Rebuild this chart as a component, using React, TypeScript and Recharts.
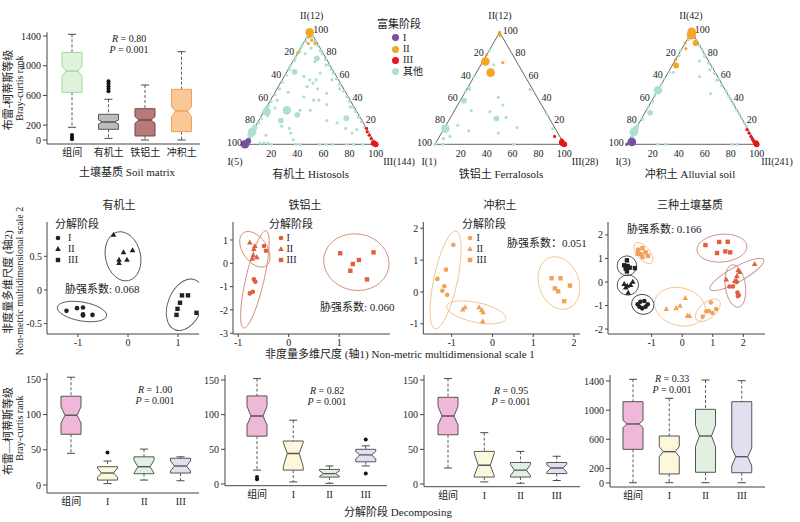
import React from 'react';
import {
    BarChart,
    Bar,
    XAxis,
    YAxis,
    ScatterChart,
    Scatter,
    ReferenceLine,
    ReferenceArea,
} from 'recharts';

const FONT = '"Liberation Serif", "Times New Roman", "Noto Sans CJK SC", serif';
const AXIS = '#444';
const TICK = { fontSize: 10, fill: '#222' };

// ---------- row 1: Bray-Curtis rank by soil matrix ----------
const soilCats = ['组间', '有机土', '铁铝土', '冲积土'];
const soilLow = [171, 22, 0, 0];
const soilQ1 = [642, 144, 54, 112];
const soilMed = [929, 242, 269, 390];
const soilQ3 = [1180, 346, 421, 682];
const soilHigh = [1423, 548, 740, 1189];
const soilNotchLo = [861, 215, 225, 314];
const soilNotchHi = [996, 270, 315, 448];
const soilOutliers = [[67, 36, 9], [655, 690, 725, 760, 790], [], []];
const soilTicks = [0, 200, 600, 1000, 1400];

// ---------- row 3: Bray-Curtis rank by decomposition stage ----------
const stageCats = ['组间', 'I', 'II', 'III'];
const rankTicks = [0, 50, 100, 150];

const histLow = [45, 2, 7, 6];
const histQ1 = [72, 7, 16, 17];
const histMed = [99, 17, 26, 27];
const histQ3 = [126, 26, 40, 38];
const histHigh = [153, 34, 51, 40];
const histNotchLo = [88, 11, 17, 20];
const histNotchHi = [111, 24, 35, 34];
const histOutliers = [[], [46], [], []];

const ferrLow = [20, 3, 1, 26];
const ferrQ1 = [69, 20, 10, 32];
const ferrMed = [98, 44, 15, 42];
const ferrQ3 = [127, 62, 21, 50];
const ferrHigh = [152, 92, 26, 55];
const ferrNotchLo = [85, 25, 11, 36];
const ferrNotchHi = [112, 60, 19, 47];
const ferrOutliers = [[7, 10], [], [], [64, 15]];

const alluvLow = [23, 3, 1, 5];
const alluvQ1 = [71, 10, 10, 15];
const alluvMed = [98, 27, 20, 23];
const alluvQ3 = [125, 47, 31, 31];
const alluvHigh = [152, 74, 47, 40];
const alluvNotchLo = [85, 12, 12, 17];
const alluvNotchHi = [112, 44, 28, 28];
const alluvOutliers = [[], [], [], []];

const allLow = [4, 4, 4, 4];
const allQ1 = [462, 124, 147, 141];
const allMed = [810, 430, 645, 361];
const allQ3 = [1116, 645, 1011, 1116];
const allHigh = [1423, 1162, 1413, 1404];
const allNotchLo = [760, 360, 500, 233];
const allNotchHi = [860, 500, 790, 480];
const allOutliers = [[], [], [], []];

// ---------- row 2: NMDS scores [axis1, axis2] ----------
const histI = [[-1.23, -0.31], [-1.02, -0.27], [-0.9, -0.26], [-0.9, -0.36], [-0.9, -0.38], [-0.71, -0.37]];
const histII = [[-0.29, 0.82], [-0.09, 0.56], [0.09, 0.59], [-0.18, 0.45], [-0.18, 0.4], [-0.02, 0.45]];
const histIII = [[1.08, -0.08], [1.2, -0.08], [1.04, -0.19], [0.99, -0.28], [0.97, -0.37], [1.37, -0.34]];

const ferrI = [[-0.49, 0.74], [-0.45, 0.54], [-0.69, -0.69], [-0.66, -0.79], [-0.77, -1.29], [-0.71, -1.22]];
const ferrII = [[-0.77, 0.89], [-0.67, 0.74], [-0.69, 0.61], [-0.7, 0.34], [-0.72, 0.2], [-0.63, 0.26]];
const ferrIII = [[1.02, 0.43], [1.68, 0.47], [1.27, -0.03], [1.39, 0.14], [1.22, -0.32], [1.55, -0.69]];

const alluvI = [[-0.96, 1.48], [-1.14, 0.7], [-1.35, 0.41], [-1.18, 0.18], [-1.23, 0.04], [-1.11, -0.09]];
const alluvII = [[-0.73, -0.55], [-0.67, -0.48], [-0.33, -0.48], [-0.26, -0.57], [-0.23, -0.64], [-0.24, -0.92]];
const alluvIII = [[1.45, 0.43], [1.67, 0.43], [1.53, 0.11], [1.61, 0.02], [1.9, 0.2], [1.76, -0.29]];

const mixHistI = [[-1.46, -0.95], [-1.37, -0.84], [-1.24, -0.81], [-1.13, -0.95], [-1.31, -1.12], [-1.2, -1.05], [-1.4, -1.05]];
const mixHistII = [[-1.9, -0.08], [-1.8, -0.16], [-1.85, -0.23], [-1.69, -0.13], [-1.62, 0.01], [-1.77, -0.46]];
const mixHistIII = [[-1.81, 0.92], [-1.9, 0.71], [-1.79, 0.68], [-1.85, 0.57], [-1.72, 0.61], [-1.55, 0.59], [-1.81, 0.45]];
const mixAlluvI = [[0.94, -0.87], [0.79, -1.24], [0.87, -1.23], [0.99, -1.32], [1.11, -1.15], [0.67, -1.47]];
const mixAlluvII = [[-0.52, -1.15], [-0.2, -1.12], [-0.07, -1.01], [0.1, -0.68], [0.17, -1.43], [0.24, -1.45]];
const mixAlluvIII = [[-1.44, 1.37], [-1.3, 1.44], [-1.2, 1.26], [-1.36, 1.18], [-1.12, 1.11], [-1.3, 1.06], [-1.46, 1.2]];
const mixFerrI = [[1.55, -0.19], [1.66, -0.19], [1.81, -0.45], [1.85, -0.56], [1.82, -0.6], [1.78, 0.0]];
const mixFerrII = [[2.37, 0.76], [1.44, 0.11], [1.79, 0.25], [1.83, 0.5], [1.88, 0.42], [1.77, 0.07], [1.72, 0.04]];
const mixFerrIII = [[0.76, 1.57], [1.21, 1.7], [1.49, 1.71], [1.14, 1.23], [1.41, 1.3], [1.57, 1.26]];

// ellipses: [centre x, centre y, semi x, semi y, tilt deg]
const histEll = [[-0.92, -0.32, 0.5, 0.14, 10], [-0.1, 0.5, 0.35, 0.37, -13], [1.14, -0.22, 0.34, 0.4, 22]];
const ferrEll = [[-0.67, -0.69, 0.18, 2.14, 13], [-0.67, 0.6, 0.24, 0.86, -35], [1.34, 0.05, 0.65, 1.21, 10]];
const alluvEll = [[-1.15, 0.38, 0.29, 1.57, 12], [-0.4, -0.64, 0.74, 0.31, 12], [1.63, 0.28, 0.49, 0.85, -20]];
const mixHistEll = [[-1.29, -0.95, 0.37, 0.42, 15], [-1.78, -0.13, 0.35, 0.43, 0], [-1.81, 0.69, 0.32, 0.42, 0]];
const mixAlluvEll = [[0.84, -1.2, 0.49, 0.34, -40], [-0.07, -1.05, 0.85, 0.8, 15], [-1.27, 1.23, 0.21, 0.54, -40]];
const mixFerrEll = [[1.74, -0.17, 0.33, 0.91, -8], [1.79, 0.32, 1.0, 0.32, -29], [1.3, 1.44, 0.82, 0.59, -5]];

// ---------- row 1: ternary plots, [II %, III %, size class]; I % = 100 - II - III ----------
const ternTicks = [20, 40, 60, 80, 100];

const histTernOther = [
    [5, 1, 1], [8, 0, 2], [11, 0, 3], [15, 0, 2], [19, 1, 1], [23, 1, 1], [29, 2, 3], [34, 1, 1], [38, 1, 1],
    [44, 1, 1], [49, 2, 1], [55, 1, 1], [61, 1, 1], [66, 1, 1], [69, 0, 1], [74, 1, 1], [77, 0, 1], [82, 1, 1],
    [86, 0, 1], [88, 0, 1], [91, 1, 1], [94, 1, 1],
    [95, 4, 1], [91, 8, 1], [87, 12, 1], [83, 16, 1], [80, 19, 1], [75, 24, 1], [70, 29, 1], [66, 33, 1],
    [63, 36, 1], [58, 41, 1], [53, 46, 1], [47, 52, 1], [42, 57, 1], [38, 61, 1], [33, 66, 1], [29, 70, 1],
    [24, 75, 1], [20, 79, 1], [15, 84, 1], [11, 88, 1],
    [1, 11, 1], [1, 14, 1], [1, 17, 1], [0, 20, 1], [0, 39, 1], [0, 42, 1], [0, 57, 1], [0, 62, 1], [0, 67, 1],
    [0, 78, 1], [0, 83, 1], [0, 90, 1],
    [76, 17, 2], [73, 17, 1], [80, 6, 1], [64, 6, 2], [30, 17, 3], [26, 27, 2], [32, 7, 1], [39, 5, 1], [21, 17, 2],
    [16, 20, 1], [14, 27, 1], [4, 35, 1], [57, 26, 1], [54, 25, 1], [49, 31, 1], [51, 22, 1], [57, 21, 1],
    [63, 26, 1], [39, 33, 1], [39, 37, 1], [42, 24, 1], [30, 27, 1], [30, 35, 1], [21, 52, 1], [19, 61, 1],
    [14, 70, 1], [23, 66, 2], [33, 64, 1], [13, 79, 1], [10, 77, 1], [57, 38, 1], [70, 27, 1], [49, 48, 1],
    [45, 40, 1], [35, 45, 1], [10, 30, 1], [8, 12, 1], [25, 5, 1], [46, 10, 1], [60, 15, 1], [85, 8, 1],
];
const histTernI = [[0, 0, 3], [1.5, 0.5, 2], [3, 1, 2]];
const histTernII = [[99, 0, 3], [95, 2, 1], [92, 5, 1], [89, 4, 1], [89, 9, 1], [81, 0, 1]];
const histTernIII = [[0, 100, 2], [1, 98, 2], [2, 97, 1], [5, 94, 1], [8, 91, 1], [11, 88, 1], [14, 86, 1]];

const ferrTernOther = [
    [14, 1, 3], [39, 3, 2], [23, 36, 2], [29, 28, 1], [24, 43, 1], [42, 28, 1], [30, 13, 1], [47, 0, 1],
    [49, 2, 1], [51, 1, 1], [17, 9, 1], [7, 8, 1], [0, 6, 1], [0, 61, 1], [15, 56, 1], [10, 44, 1], [71, 10, 1],
    [84, 0, 1], [27, 73, 1], [49, 49, 1], [14, 84, 1], [5, 4, 1], [0, 0, 1], [60, 0, 1], [35, 35, 1], [12, 20, 1],
];
const ferrTernI = [];
const ferrTernII = [[100, 0, 1], [97, 2, 1], [80, 0, 1], [74, 2, 3], [64, 11, 3], [73, 16, 1]];
const ferrTernIII = [[0, 100, 2], [1, 98, 2], [2, 97, 2], [4, 96, 1], [7, 89, 1]];

const alluvTernOther = [
    [48, 0, 3], [28, 4, 2], [11, 0, 3], [14, 0, 2], [64, 4, 1], [64, 1, 1], [74, 19, 1], [66, 31, 1], [60, 26, 1],
    [57, 41, 1], [45, 42, 1], [0, 24, 1], [0, 30, 1], [0, 81, 1], [0, 85, 1],
    [92, 7, 1], [88, 12, 1], [84, 16, 1], [80, 20, 1], [78, 21, 1], [72, 27, 1], [68, 32, 1], [63, 36, 1],
    [58, 42, 1], [52, 47, 1], [47, 53, 1], [43, 57, 1], [40, 60, 1], [36, 64, 1], [31, 69, 1], [27, 73, 1],
    [23, 77, 1], [19, 81, 1], [16, 84, 1],
    [4, 0, 1], [7, 1, 1], [17, 0, 1], [22, 1, 1], [33, 0, 1], [38, 1, 1], [43, 0, 1], [53, 0, 1], [58, 0, 1],
    [79, 1, 1], [83, 0, 1], [93, 1, 1],
];
const alluvTernI = [[0, 0, 1], [2, 3, 3]];
const alluvTernII = [[100, 0, 3], [97, 1, 3], [96, 3, 2], [98, 2, 2], [90, 0, 1], [85, 3, 1], [90, 8, 2], [75, 0, 1], [70, 3, 2]];
const alluvTernIII = [[0, 100, 2], [1, 99, 2], [2, 97, 1], [3, 96, 1], [4, 95, 1], [5, 94, 1], [7, 92, 1], [10, 89, 1], [13, 86, 1]];

// ---------- colours ----------
const soilFills = ['#dff2dc', '#bdbdbd', '#b77a7a', '#f9c896'];
const soilStrokes = ['#a3d89d', '#555', '#7b4242', '#f0a25a'];
const stageFills = ['#efb8d8', '#fdf7dc', '#e1f0e0', '#e3dff0'];
const stageStrokes = ['#555', '#555', '#555', '#555'];
const TEAL = '#aee0cf';
const PURPLE = '#7a4ea3';
const ORANGE = '#f5a623';
const RED = '#e3191c';

const makeBoxes = (cats: string[], lo: number[], q1: number[], med: number[], q3: number[], hi: number[],
    nLo: number[], nHi: number[], out: number[][]) =>
    cats.map((cat, i) => ({
        cat, range: [lo[i], hi[i]], q1: q1[i], med: med[i], q3: q3[i], nLo: nLo[i], nHi: nHi[i], out: out[i],
    }));

const BoxShape = (props: any) => {
    const { x, y, width, height, payload, index, fills, strokes } = props;
    const b = payload;
    const [lo, hi] = b.range;
    const py = (v: number) => y + ((hi - v) / (hi - lo)) * height;
    const cx = x + width / 2;
    const hw = width / 2;
    const nw = hw * 0.6;
    const cap = 4;
    const pts = [
        [cx - hw, py(b.q3)], [cx + hw, py(b.q3)], [cx + hw, py(b.nHi)], [cx + nw, py(b.med)], [cx + hw, py(b.nLo)],
        [cx + hw, py(b.q1)], [cx - hw, py(b.q1)], [cx - hw, py(b.nLo)], [cx - nw, py(b.med)], [cx - hw, py(b.nHi)],
    ].map((p) => p.join(',')).join(' ');
    const stroke = strokes[index];
    return (
        <g>
            <line x1={cx} x2={cx} y1={py(hi)} y2={py(b.q3)} stroke="#333" strokeWidth={0.8} strokeDasharray="3 2" />
            <line x1={cx} x2={cx} y1={py(b.q1)} y2={py(lo)} stroke="#333" strokeWidth={0.8} strokeDasharray="3 2" />
            <line x1={cx - cap} x2={cx + cap} y1={py(hi)} y2={py(hi)} stroke="#333" strokeWidth={0.9} />
            <line x1={cx - cap} x2={cx + cap} y1={py(lo)} y2={py(lo)} stroke="#333" strokeWidth={0.9} />
            <polygon points={pts} fill={fills[index]} stroke={stroke} strokeWidth={1} />
            <line x1={cx - nw} x2={cx + nw} y1={py(b.med)} y2={py(b.med)} stroke={stroke} strokeWidth={1.4} />
            {b.out.map((v: number, k: number) => (
                <circle key={k} cx={cx} cy={py(v)} r={2} fill="#111" />
            ))}
        </g>
    );
};

const BoxPanel = ({ left, top, width, height, yw, mTop, domain, ticks, padL, padR, boxes, fills, strokes }: any) => (
    <div style={{ position: 'absolute', left, top }}>
        <BarChart width={width} height={height} data={boxes} margin={{ top: mTop, right: 0, left: 0, bottom: 4 }}>
            <XAxis
                dataKey="cat"
                type="category"
                tickLine={false}
                tickSize={4}
                tickMargin={1}
                height={14}
                padding={{ left: padL, right: padR }}
                stroke={AXIS}
                tick={TICK}
                interval={0}
            />
            <YAxis
                type="number"
                domain={domain}
                ticks={ticks}
                width={yw}
                tickSize={4}
                tickMargin={2}
                stroke={AXIS}
                tick={TICK}
                interval={0}
                allowDataOverflow
            />
            <Bar
                dataKey="range"
                barSize={20}
                isAnimationActive={false}
                shape={(p: any) => <BoxShape {...p} fills={fills} strokes={strokes} />}
            />
        </BarChart>
    </div>
);

const Marker = ({ cx, cy, kind, color }: any) => {
    if (kind === 'tri') {
        return <polygon points={`${cx},${cy - 3} ${cx + 2.8},${cy + 2} ${cx - 2.8},${cy + 2}`} fill={color} />;
    }
    if (kind === 'sq') {
        return <rect x={cx - 2.2} y={cy - 2.2} width={4.4} height={4.4} fill={color} />;
    }
    return <circle cx={cx} cy={cy} r={2.3} fill={color} />;
};

const EllipseShape = ({ x, y, width, height, angle, color }: any) => {
    const cx = x + width / 2;
    const cy = y + height / 2;
    return (
        <ellipse
            cx={cx}
            cy={cy}
            rx={Math.abs(width / 2)}
            ry={Math.abs(height / 2)}
            transform={`rotate(${angle} ${cx} ${cy})`}
            fill="none"
            stroke={color}
            strokeWidth={0.9}
        />
    );
};

const toPts = (arr: number[][]) => arr.map(([x, y]) => ({ x, y }));

const NmdsPanel = ({ left, width, yw, xDomain, yDomain, xTicks, yTicks, groups, ellipses }: any) => (
    <div style={{ position: 'absolute', left, top: 212 }}>
        <ScatterChart width={width} height={140} margin={{ top: 10, right: 0, left: 0, bottom: 2 }}>
            <XAxis
                type="number"
                dataKey="x"
                domain={xDomain}
                ticks={xTicks}
                allowDataOverflow
                height={16}
                tickSize={3}
                tickMargin={2}
                stroke={AXIS}
                tick={TICK}
                interval={0}
            />
            <YAxis
                type="number"
                dataKey="y"
                domain={yDomain}
                ticks={yTicks}
                allowDataOverflow
                width={yw}
                tickSize={3}
                tickMargin={2}
                stroke={AXIS}
                tick={TICK}
                interval={0}
            />
            {ellipses.map((e: any, i: number) => (
                <ReferenceArea
                    key={`e${i}`}
                    x1={e.v[0] - e.v[2]}
                    x2={e.v[0] + e.v[2]}
                    y1={e.v[1] - e.v[3]}
                    y2={e.v[1] + e.v[3]}
                    ifOverflow="visible"
                    shape={(p: any) => <EllipseShape {...p} angle={e.v[4]} color={e.color} />}
                />
            ))}
            {groups.map((g: any, i: number) => (
                <Scatter
                    key={`g${i}`}
                    data={toPts(g.data)}
                    isAnimationActive={false}
                    shape={(p: any) => <Marker {...p} kind={g.kind} color={g.color} />}
                />
            ))}
        </ScatterChart>
    </div>
);

const H = Math.sqrt(3) / 2;
const toTern = (arr: number[][]) => arr.map(([b, c, s]) => ({ x: c + b / 2, y: b * H, s }));
const DOT_R = [0, 1.6, 2.9, 4.3];

const TernDot = ({ cx, cy, payload, color }: any) => <circle cx={cx} cy={cy} r={DOT_R[payload.s]} fill={color} />;

const TernLabel = ({ cx, cy, payload, side }: any) => {
    if (side === 'bottom') {
        return <text x={cx} y={cy + 9.5} textAnchor="middle" dominantBaseline="central" fontSize={10} fill="#222">{payload.t}</text>;
    }
    if (side === 'left') {
        return <text x={cx - 3} y={cy - 2} textAnchor="end" dominantBaseline="central" fontSize={10} fill="#222">{payload.t}</text>;
    }
    return <text x={cx + 3} y={cy - 2} textAnchor="start" dominantBaseline="central" fontSize={10} fill="#222">{payload.t}</text>;
};

const bottomLabels = ternTicks.map((t) => ({ x: t, y: 0, t }));
const leftLabels = ternTicks.map((t) => ({ x: (100 - t) / 2, y: (100 - t) * H, t }));
const rightLabels = ternTicks.map((t) => ({ x: 100 - t / 2, y: t * H, t }));

const TernPanel = ({ left, mLeft, side, other, sI, sII, sIII }: any) => {
    const mTop = 144.3 - side * H;
    return (
        <div style={{ position: 'absolute', left, top: 0 }}>
            <ScatterChart
                width={190}
                height={165}
                margin={{ top: mTop, right: 190 - mLeft - side, left: mLeft, bottom: 165 - 144.3 }}
            >
                <XAxis type="number" dataKey="x" domain={[0, 100]} hide />
                <YAxis type="number" dataKey="y" domain={[0, 100 * H]} hide />
                <ReferenceLine segment={[{ x: 0, y: 0 }, { x: 100, y: 0 }]} stroke="#555" strokeWidth={0.9} ifOverflow="visible" />
                <ReferenceLine segment={[{ x: 0, y: 0 }, { x: 50, y: 100 * H }]} stroke="#555" strokeWidth={0.9} ifOverflow="visible" />
                <ReferenceLine segment={[{ x: 100, y: 0 }, { x: 50, y: 100 * H }]} stroke="#555" strokeWidth={0.9} ifOverflow="visible" />
                <Scatter data={toTern(other)} isAnimationActive={false} shape={(p: any) => <TernDot {...p} color={TEAL} />} />
                <Scatter data={toTern(sI)} isAnimationActive={false} shape={(p: any) => <TernDot {...p} color={PURPLE} />} />
                <Scatter data={toTern(sII)} isAnimationActive={false} shape={(p: any) => <TernDot {...p} color={ORANGE} />} />
                <Scatter data={toTern(sIII)} isAnimationActive={false} shape={(p: any) => <TernDot {...p} color={RED} />} />
                <Scatter data={bottomLabels} isAnimationActive={false} shape={(p: any) => <TernLabel {...p} side="bottom" />} />
                <Scatter data={leftLabels} isAnimationActive={false} shape={(p: any) => <TernLabel {...p} side="left" />} />
                <Scatter data={rightLabels} isAnimationActive={false} shape={(p: any) => <TernLabel {...p} side="right" />} />
            </ScatterChart>
        </div>
    );
};

const Txt = ({ x, y, children, size = 11, rot = 0, anchor = 'middle', style }: any) => {
    const tx = anchor === 'middle' ? '-50%' : anchor === 'end' ? '-100%' : '0';
    return (
        <div
            style={{
                position: 'absolute',
                left: x,
                top: y,
                transform: `translate(${tx},-50%) rotate(${rot}deg)`,
                fontSize: size,
                whiteSpace: 'nowrap',
                lineHeight: 1,
                ...style,
            }}
        >
            {children}
        </div>
    );
};

const Icon = ({ kind, color, size = 8 }: any) => (
    <svg width={size} height={size} style={{ display: 'block' }}>
        {kind === 'dot' ? (
            <circle cx={size / 2} cy={size / 2} r={size / 2} fill={color} />
        ) : (
            <Marker cx={size / 2} cy={size / 2} kind={kind} color={color} />
        )}
    </svg>
);

const StageLegend = ({ tx, mx, lx, color }: any) => (
    <>
        <Txt x={tx} y={224} anchor="start">分解阶段</Txt>
        {[['circ', 'I'], ['tri', 'II'], ['sq', 'III']].map(([k, t], i) => (
            <React.Fragment key={t}>
                <div style={{ position: 'absolute', left: mx - 4, top: 237.5 + i * 11 - 4 }}>
                    <Icon kind={k} color={color} />
                </div>
                <Txt x={lx} y={237.5 + i * 11} anchor="start" size={10}>{t}</Txt>
            </React.Fragment>
        ))}
    </>
);

const RP = ({ x, y, r }: any) => (
    <>
        <Txt x={x} y={y} size={10}><i>R</i> = {r}</Txt>
        <Txt x={x} y={y + 11} size={10}><i>P</i> = 0.001</Txt>
    </>
);

const App = () => {
    const soilBoxes = makeBoxes(soilCats, soilLow, soilQ1, soilMed, soilQ3, soilHigh, soilNotchLo, soilNotchHi, soilOutliers);
    const histBoxes = makeBoxes(stageCats, histLow, histQ1, histMed, histQ3, histHigh, histNotchLo, histNotchHi, histOutliers);
    const ferrBoxes = makeBoxes(stageCats, ferrLow, ferrQ1, ferrMed, ferrQ3, ferrHigh, ferrNotchLo, ferrNotchHi, ferrOutliers);
    const alluvBoxes = makeBoxes(stageCats, alluvLow, alluvQ1, alluvMed, alluvQ3, alluvHigh, alluvNotchLo, alluvNotchHi, alluvOutliers);
    const allBoxes = makeBoxes(stageCats, allLow, allQ1, allMed, allQ3, allHigh, allNotchLo, allNotchHi, allOutliers);

    const black = '#222';
    const red = '#e0603e';
    const orange = '#f4a155';
    const ell = (arr: number[][], color: string) => arr.map((v) => ({ v, color }));

    return (
        <div
            style={{
                position: 'absolute',
                left: 0,
                top: 0,
                width: 800,
                height: 522,
                background: '#fff',
                fontFamily: FONT,
                color: '#222',
                overflow: 'hidden',
            }}
        >
            {/* row 1 */}
            <BoxPanel left={0} top={0} width={200} height={162} yw={47} mTop={32.3} domain={[-54, 1450]} ticks={soilTicks}
                padL={7} padR={0} boxes={soilBoxes} fills={soilFills} strokes={soilStrokes} />
            <RP x={129} y={39} r="0.80" />
            <Txt x={127} y={172}>土壤基质 Soil matrix</Txt>
            <Txt x={8} y={90} rot={-90}>布雷-柯蒂斯等级</Txt>
            <Txt x={20} y={88} rot={-90} size={10}>Bray-curtis rank</Txt>

            <TernPanel left={215} mLeft={30} side={130.7} other={histTernOther} sI={histTernI} sII={histTernII} sIII={histTernIII} />
            <TernPanel left={405} mLeft={30} side={129.3} other={ferrTernOther} sI={ferrTernI} sII={ferrTernII} sIII={ferrTernIII} />
            <TernPanel left={597} mLeft={29.7} side={130} other={alluvTernOther} sI={alluvTernI} sII={alluvTernII} sIII={alluvTernIII} />

            <Txt x={311.7} y={16} size={10}>II(12)</Txt>
            <Txt x={235} y={162} size={10}>I(5)</Txt>
            <Txt x={399} y={162} size={10}>III(144)</Txt>
            <Txt x={310.7} y={174}>有机土 Histosols</Txt>
            <Txt x={500} y={16} size={10}>II(12)</Txt>
            <Txt x={429} y={162} size={10}>I(1)</Txt>
            <Txt x={585} y={162} size={10}>III(28)</Txt>
            <Txt x={501} y={174}>铁铝土 Ferralosols</Txt>
            <Txt x={691} y={16} size={10}>II(42)</Txt>
            <Txt x={623} y={162} size={10}>I(3)</Txt>
            <Txt x={777} y={162} size={10}>III(241)</Txt>
            <Txt x={690} y={174}>冲积土 Alluvial soil</Txt>

            <Txt x={399} y={24}>富集阶段</Txt>
            {[[PURPLE, 'I'], [ORANGE, 'II'], [RED, 'III'], [TEAL, '其他']].map(([c, t], i) => (
                <React.Fragment key={t}>
                    <div style={{ position: 'absolute', left: 391.5, top: 37.7 + i * 11.3 - 3.5 }}>
                        <Icon kind="dot" color={c} size={7} />
                    </div>
                    <Txt x={403} y={37.7 + i * 11.3} anchor="start" size={10}>{t}</Txt>
                </React.Fragment>
            ))}

            {/* row 2 */}
            <Txt x={119} y={205}>有机土</Txt>
            <Txt x={305} y={205}>铁铝土</Txt>
            <Txt x={500} y={205}>冲积土</Txt>
            <Txt x={690} y={205}>三种土壤基质</Txt>

            <NmdsPanel left={0} width={199} yw={47} xDomain={[-1.62, 1.42]} yDomain={[-0.654, 1.01]}
                xTicks={[-1, 0, 1]} yTicks={[-0.5, 0, 0.5]}
                ellipses={ell(histEll, '#555')}
                groups={[
                    { data: histI, kind: 'circ', color: black },
                    { data: histII, kind: 'tri', color: black },
                    { data: histIII, kind: 'sq', color: black },
                ]} />
            <NmdsPanel left={200} width={190} yw={33} xDomain={[-1.103, 2.006]} yDomain={[-3.03, 1.77]}
                xTicks={[-1, 0, 1]} yTicks={[-3, -2, -1, 0, 1]}
                ellipses={ell(ferrEll, '#d98a7a')}
                groups={[
                    { data: ferrI, kind: 'circ', color: red },
                    { data: ferrII, kind: 'tri', color: red },
                    { data: ferrIII, kind: 'sq', color: red },
                ]} />
            <NmdsPanel left={395} width={185} yw={28.3} xDomain={[-1.697, 2.147]} yDomain={[-1.32, 2.197]}
                xTicks={[-1, 0, 1, 2]} yTicks={[-1, 0, 1, 2]}
                ellipses={ell(alluvEll, '#f0c493')}
                groups={[
                    { data: alluvI, kind: 'circ', color: orange },
                    { data: alluvII, kind: 'tri', color: orange },
                    { data: alluvIII, kind: 'sq', color: orange },
                ]} />
            <NmdsPanel left={588} width={177} yw={20} xDomain={[-2.43, 2.71]} yDomain={[-2.21, 2.55]}
                xTicks={[-1, 0, 1, 2]} yTicks={[-2, -1, 0, 1, 2]}
                ellipses={[...ell(mixHistEll, '#444'), ...ell(mixAlluvEll, '#f0c493'), ...ell(mixFerrEll, '#c98b86')]}
                groups={[
                    { data: mixHistI, kind: 'circ', color: black },
                    { data: mixHistII, kind: 'tri', color: black },
                    { data: mixHistIII, kind: 'sq', color: black },
                    { data: mixAlluvI, kind: 'circ', color: orange },
                    { data: mixAlluvII, kind: 'tri', color: orange },
                    { data: mixAlluvIII, kind: 'sq', color: orange },
                    { data: mixFerrI, kind: 'circ', color: red },
                    { data: mixFerrII, kind: 'tri', color: red },
                    { data: mixFerrIII, kind: 'sq', color: red },
                ]} />

            <StageLegend tx={55} mx={57.5} lx={68} color={black} />
            <StageLegend tx={269} mx={281} lx={286.5} color={red} />
            <StageLegend tx={462} mx={470} lx={476.5} color={orange} />
            <Txt x={65} y={289} anchor="start">胁强系数: 0.068</Txt>
            <Txt x={320} y={307} anchor="start">胁强系数: 0.060</Txt>
            <Txt x={507} y={243} anchor="start">胁强系数：0.051</Txt>
            <Txt x={627} y={229} anchor="start">胁强系数: 0.166</Txt>

            <Txt x={8} y={282} rot={-90}>非度量多维尺度 (轴2)</Txt>
            <Txt x={20} y={281} rot={-90} size={10}>Non-metric multidimensional scale 2</Txt>
            <Txt x={400} y={354}>非度量多维尺度 (轴1) Non-metric multidimensional scale 1</Txt>

            {/* row 3 */}
            <BoxPanel left={0} top={360} width={199} height={151} yw={47} mTop={13} domain={[-11.35, 159]} ticks={rankTicks}
                padL={6} padR={0} boxes={histBoxes} fills={stageFills} strokes={stageStrokes} />
            <BoxPanel left={198} top={360} width={189} height={143.7} yw={27} mTop={15} domain={[-2.45, 157.2]} ticks={rankTicks}
                padL={14} padR={3} boxes={ferrBoxes} fills={stageFills} strokes={stageStrokes} />
            <BoxPanel left={397} top={360} width={183} height={144.7} yw={27} mTop={15} domain={[-3.9, 157.2]} ticks={rankTicks}
                padL={6} padR={5} boxes={alluvBoxes} fills={stageFills} strokes={stageStrokes} />
            <BoxPanel left={580} top={360} width={185} height={145} yw={30} mTop={15} domain={[-54.9, 1482]} ticks={soilTicks}
                padL={5} padR={5} boxes={allBoxes} fills={stageFills} strokes={stageStrokes} />
            <RP x={155} y={390} r="1.00" />
            <RP x={327} y={390.7} r="0.82" />
            <RP x={511} y={390.7} r="0.95" />
            <RP x={672} y={379} r="0.33" />
            <Txt x={8} y={431} rot={-90}>布雷—柯蒂斯等级</Txt>
            <Txt x={20} y={428} rot={-90} size={10}>Bray-curtis rank</Txt>
            <Txt x={398} y={512}>分解阶段 Decomposing</Txt>
        </div>
    );
};

export default App;
